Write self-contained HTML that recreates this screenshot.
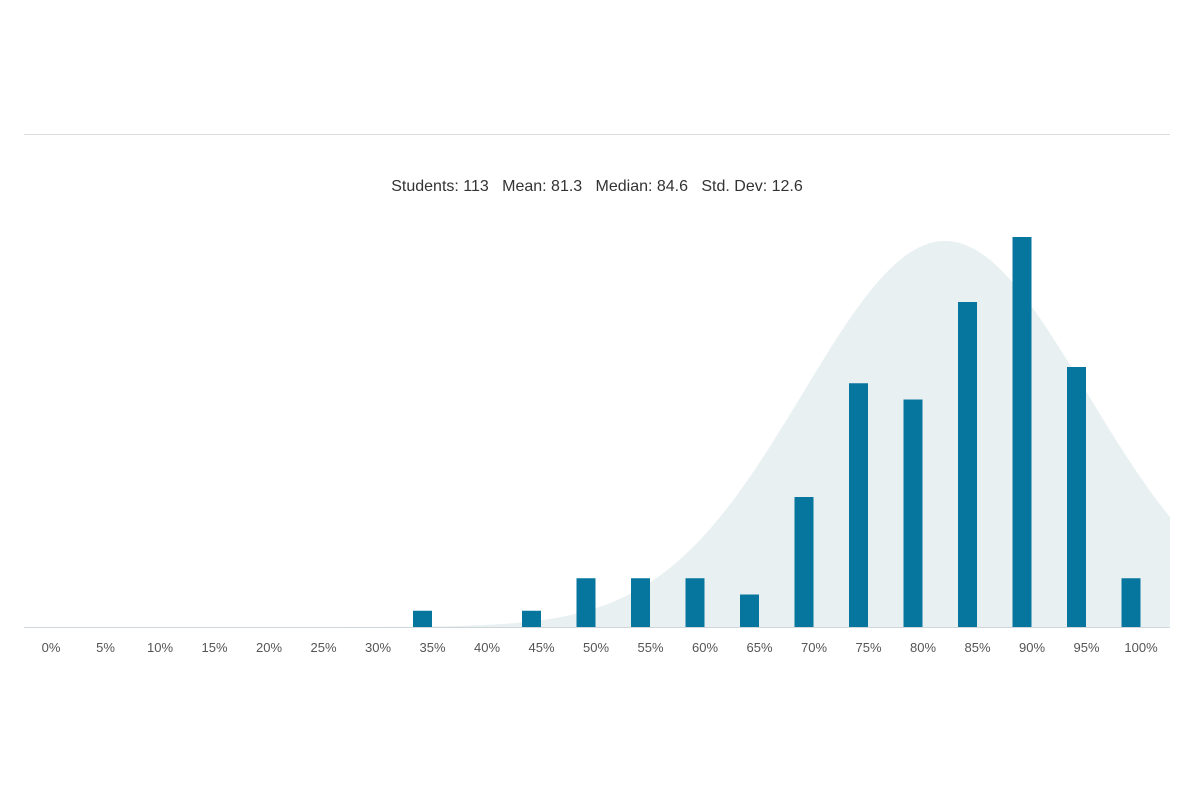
<!DOCTYPE html>
<html><head><meta charset="utf-8"><style>
body{margin:0;background:#fff;width:1200px;height:800px;overflow:hidden;font-family:"Liberation Sans",sans-serif}
</style></head><body>
<svg id="s" width="1200" height="800" xmlns="http://www.w3.org/2000/svg">
<line x1="24" y1="134.5" x2="1170" y2="134.5" stroke="#dcdcdc" stroke-width="1"/>
<text x="597" y="191" text-anchor="middle" font-size="16" fill="#333" font-family="Liberation Sans, sans-serif" xml:space="preserve">Students: 113   Mean: 81.3   Median: 84.6   Std. Dev: 12.6</text>
<path id="curve" fill="#e8f0f2" d=""/>
<g id="bars" fill="#07769f"></g>
<line x1="24" y1="627.5" x2="1170" y2="627.5" stroke="#d0d6da" stroke-width="1"/>
<g id="labels" font-size="13" fill="#555" text-anchor="middle" font-family="Liberation Sans, sans-serif"></g>
</svg>
<script>
var ns="http://www.w3.org/2000/svg";
var counts={7:1,9:1,10:3,11:3,12:3,13:2,14:8,15:15,16:14,17:20,18:24,19:16,20:3};
var base=627,u=16.25;
for(var i=0;i<=20;i++){
 var t=document.createElementNS(ns,"text");t.setAttribute("x",51+54.5*i);t.setAttribute("y",652);t.textContent=(i*5)+"%";document.getElementById("labels").appendChild(t);
 if(counts[i]){var r=document.createElementNS(ns,"rect");var c=41+54.5*i;r.setAttribute("x",c-9.5);r.setAttribute("width",19);r.setAttribute("y",base-counts[i]*u);r.setAttribute("height",counts[i]*u);document.getElementById("bars").appendChild(r);}
}
var d="M24,"+base;
for(var x=24;x<=1170;x+=3){var z=(x-945)/142;d+=" L"+x+","+(base-386*Math.exp(-z*z/2)).toFixed(1);}
d+=" L1170,"+base+" Z";
document.getElementById("curve").setAttribute("d",d);
</script>
</body></html>
